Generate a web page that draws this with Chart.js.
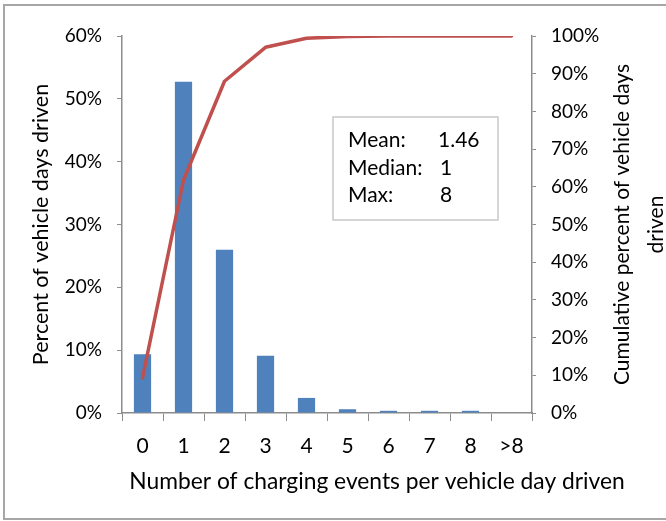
<!DOCTYPE html>
<html>
<head>
<meta charset="utf-8">
<script src="https://cdn.jsdelivr.net/npm/chart.js@4"></script>
<style>
  html, body { margin: 0; padding: 0; background: #fff; }
  #wrap { position: relative; width: 666px; height: 521px; }
</style>
</head>
<body>
<div id="wrap"><canvas id="c"></canvas></div>
<script>
const categories = ['0', '1', '2', '3', '4', '5', '6', '7', '8', '>8'];
const percentDays = [9.35, 52.7, 26.0, 9.1, 2.4, 0.6, 0.35, 0.35, 0.35, 0];
const cumulativePercent = [9.3, 61.8, 88.0, 97.0, 99.4, 99.9, 100, 100, 100, 100];
const leftTitle = 'Percent of vehicle days driven';
const rightTitle = ['Cumulative percent of vehicle days', 'driven'];
const xTitle = 'Number of charging events per vehicle day driven';
const statLabels = ['Mean:', 'Median:', 'Max:'];
const statValues = ['1.46', '1', '8'];

const FONT = 'Lato';
const AXIS_COLOR = '#8C8C8C';

const decorPlugin = {
  id: 'decor',
  beforeDraw(chart) {
    const ctx = chart.ctx;
    ctx.save();
    ctx.strokeStyle = '#A6A6A6';
    ctx.lineWidth = 2;
    ctx.strokeRect(4, 5, 680, 514);
    ctx.restore();
  },
  afterDraw(chart) {
    const ctx = chart.ctx;
    const area = chart.chartArea;
    ctx.save();
    ctx.fillStyle = '#000';
    ctx.textBaseline = 'middle';
    // x axis title
    ctx.font = '22.8px ' + FONT;
    ctx.textAlign = 'center';
    ctx.fillText(xTitle, 377, 482);
    // right axis title, reading bottom to top
    ctx.font = '21px ' + FONT;
    const cy = (area.top + area.bottom) / 2;
    const xs = [622, 656];
    rightTitle.forEach((t, i) => {
      ctx.save();
      ctx.translate(xs[i], cy);
      ctx.rotate(-Math.PI / 2);
      ctx.fillText(t, 0, 0);
      ctx.restore();
    });
    // stats box
    const bx = area.left + 211, by = area.top + 81, bw = 165, bh = 103;
    ctx.fillStyle = '#fff';
    ctx.fillRect(bx, by, bw, bh);
    ctx.strokeStyle = '#C8C8C8';
    ctx.lineWidth = 1.5;
    ctx.strokeRect(bx, by, bw, bh);
    ctx.fillStyle = '#000';
    ctx.font = '21px ' + FONT;
    ctx.textAlign = 'left';
    const rows = [by + 23, by + 51, by + 78];
    statLabels.forEach((t, i) => ctx.fillText(t, bx + 15, rows[i]));
    const vx = [bx + 105, bx + 107, bx + 107];
    statValues.forEach((t, i) => ctx.fillText(t, vx[i], rows[i]));
    ctx.restore();
  }
};

new Chart(document.getElementById('c'), {
  data: {
    labels: categories,
    datasets: [
      {
        type: 'line',
        data: cumulativePercent,
        yAxisID: 'y1',
        borderColor: '#C0504D',
        borderWidth: 3.5,
        pointRadius: 0,
        tension: 0,
        fill: false,
        borderCapStyle: 'round',
        borderJoinStyle: 'round'
      },
      {
        type: 'bar',
        data: percentDays,
        yAxisID: 'y',
        backgroundColor: '#4F81BD',
        barPercentage: 0.42,
        categoryPercentage: 1.0
      }
    ]
  },
  options: {
    responsive: true,
    maintainAspectRatio: false,
    animation: false,
    devicePixelRatio: 1,
    layout: { padding: { top: 36, left: 0, right: 0, bottom: 0 } },
    plugins: { legend: { display: false }, tooltip: { enabled: false } },
    scales: {
      x: {
        offset: true,
        grid: { display: true, drawOnChartArea: false, offset: true, tickLength: 8, color: AXIS_COLOR },
        border: { color: AXIS_COLOR, width: 1.5 },
        ticks: { color: '#000', font: { family: FONT, size: 21 }, padding: 13, maxRotation: 0 },
        title: { display: false, text: xTitle },
        afterFit(s) { s.height = 108; }
      },
      y: {
        position: 'left',
        min: 0, max: 60,
        ticks: { stepSize: 10, color: '#000', font: { family: FONT, size: 19 }, padding: 15, callback: v => v + '%' },
        grid: { display: true, drawOnChartArea: false, tickLength: 5, color: AXIS_COLOR },
        border: { color: AXIS_COLOR, width: 1.5 },
        title: { display: true, text: leftTitle, color: '#000', font: { family: FONT, size: 21.5 }, padding: { top: 28, bottom: 0 } },
        afterFit(s) { s.width = 122; }
      },
      y1: {
        position: 'right',
        min: 0, max: 100,
        ticks: { stepSize: 10, color: '#000', font: { family: FONT, size: 19 }, padding: 15, callback: v => v + '%' },
        grid: { display: true, drawOnChartArea: false, tickLength: 4, color: AXIS_COLOR },
        border: { color: AXIS_COLOR, width: 1.5 },
        afterFit(s) { s.width = 134; }
      }
    }
  },
  plugins: [decorPlugin]
});
</script>
</body>
</html>
